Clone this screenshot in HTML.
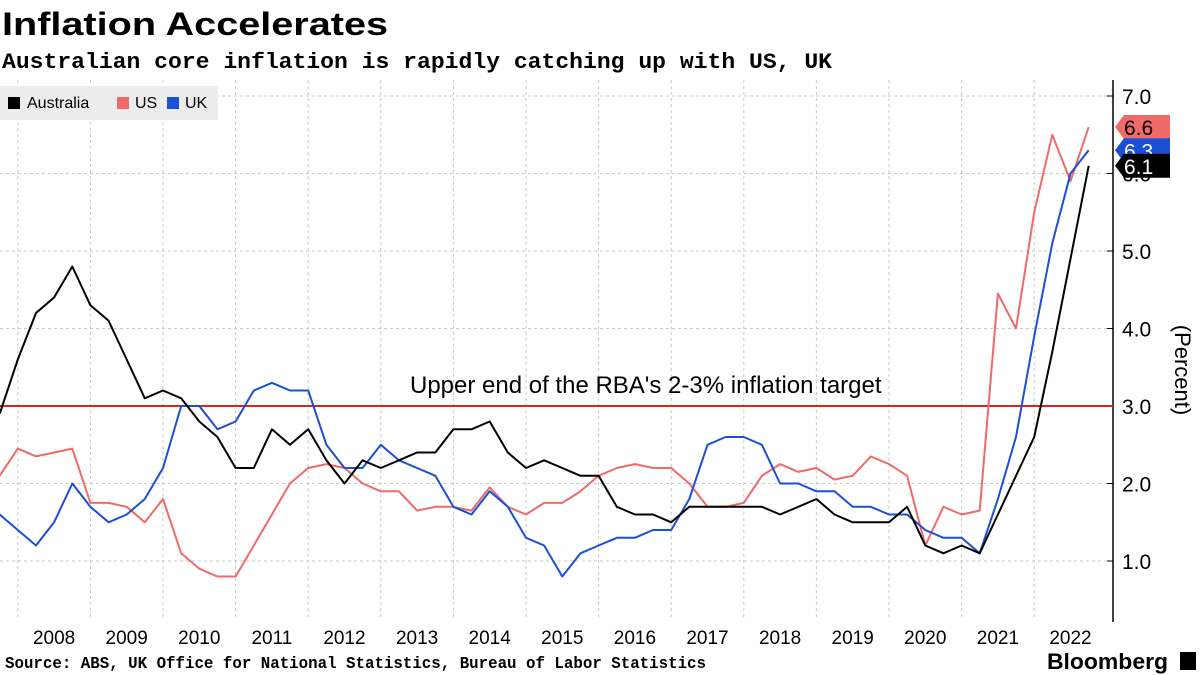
<!DOCTYPE html>
<html><head><meta charset="utf-8"><style>
body{margin:0;background:#fff;font-family:"Liberation Sans",sans-serif}
#wrap{position:relative;width:1200px;height:675px;overflow:hidden}
</style></head><body>
<div id="wrap">
<svg id="chart" width="1200" height="675" xmlns="http://www.w3.org/2000/svg">
<text x="2" y="35" font-size="32" font-weight="bold" font-family="Liberation Sans" textLength="386" lengthAdjust="spacingAndGlyphs">Inflation Accelerates</text>
<text x="2" y="68" font-size="22" font-weight="bold" font-family="Liberation Mono" textLength="830" lengthAdjust="spacingAndGlyphs">Australian core inflation is rapidly catching up with US, UK</text>
<g id="grid"></g>
<g id="series"></g>
<g id="legend">
<rect x="0" y="86" width="218" height="34" fill="#ececec"/>
<rect x="8" y="97" width="12" height="12" fill="#000"/><text x="27" y="108" font-size="16">Australia</text>
<rect x="117" y="97" width="12" height="12" fill="#f06a6a"/><text x="135" y="108" font-size="16">US</text>
<rect x="167" y="97" width="12" height="12" fill="#1a4fd6"/><text x="185" y="108" font-size="16">UK</text>
</g>
<text x="1175" y="370" font-size="22" transform="rotate(90 1175 370)" text-anchor="middle">(Percent)</text>
<text x="5" y="668" font-size="17" font-weight="bold" font-family="Liberation Mono" textLength="701" lengthAdjust="spacingAndGlyphs">Source: ABS, UK Office for National Statistics, Bureau of Labor Statistics</text>
<text x="1047" y="669" font-size="22" font-weight="bold" textLength="121" lengthAdjust="spacingAndGlyphs">Bloomberg</text>
<rect x="1180" y="652" width="16" height="18" fill="#000"/>
</svg>
</div>
<script>
const years=[2008,2009,2010,2011,2012,2013,2014,2015,2016,2017,2018,2019,2020,2021,2022];
const yTicks=[1,2,3,4,5,6,7];
const australia=[2.9,3.6,4.2,4.4,4.8,4.3,4.1,3.6,3.1,3.2,3.1,2.8,2.6,2.2,2.2,2.7,2.5,2.7,2.3,2.0,2.3,2.2,2.3,2.4,2.4,2.7,2.7,2.8,2.4,2.2,2.3,2.2,2.1,2.1,1.7,1.6,1.6,1.5,1.7,1.7,1.7,1.7,1.7,1.6,1.7,1.8,1.6,1.5,1.5,1.5,1.7,1.2,1.1,1.2,1.1,1.6,2.1,2.6,3.7,4.9,6.1];
const uk=[1.6,1.4,1.2,1.5,2.0,1.7,1.5,1.6,1.8,2.2,3.0,3.0,2.7,2.8,3.2,3.3,3.2,3.2,2.5,2.2,2.2,2.5,2.3,2.2,2.1,1.7,1.6,1.9,1.7,1.3,1.2,0.8,1.1,1.2,1.3,1.3,1.4,1.4,1.8,2.5,2.6,2.6,2.5,2.0,2.0,1.9,1.9,1.7,1.7,1.6,1.6,1.4,1.3,1.3,1.1,1.8,2.6,3.9,5.1,6.0,6.3];
const us=[2.1,2.45,2.35,2.4,2.45,1.75,1.75,1.7,1.5,1.8,1.1,0.9,0.8,0.8,1.2,1.6,2.0,2.2,2.25,2.2,2.0,1.9,1.9,1.65,1.7,1.7,1.65,1.95,1.7,1.6,1.75,1.75,1.9,2.1,2.2,2.25,2.2,2.2,2.0,1.7,1.7,1.75,2.1,2.25,2.15,2.2,2.05,2.1,2.35,2.25,2.1,1.2,1.7,1.6,1.65,4.45,4.0,5.5,6.5,5.9,6.6];
const startYear=2007.75, target=3.0;
const NS="http://www.w3.org/2000/svg";
const xs=t=>163+(t-2010)*72.6;
const ys=v=>406-(v-3)*77.5;
function mk(tag,attrs,parent){const e=document.createElementNS(NS,tag);for(const k in attrs)e.setAttribute(k,attrs[k]);parent.appendChild(e);return e;}
const grid=document.getElementById('grid'), ser=document.getElementById('series'), svg=document.getElementById('chart');
yTicks.forEach(v=>{
  if(v!==3){const l=mk('line',{x1:0,x2:1113,y1:ys(v),y2:ys(v),stroke:'#c8c8c8','stroke-dasharray':'3,3'},grid);
  
  }
  mk('line',{x1:1113,x2:1107,y1:ys(v),y2:ys(v),stroke:'#000'},grid);
  const t=mk('text',{x:1122,y:ys(v)+8,'font-size':21},grid);t.textContent=v.toFixed(1);
  
  
});
years.forEach(y=>{
  const l=mk('line',{x1:xs(y),x2:xs(y),y1:80,y2:620,stroke:'#c8c8c8','stroke-dasharray':'3,3'},grid);
  
  
  const t=mk('text',{x:xs(y+0.5),y:644,'font-size':19,'text-anchor':'middle'},grid);t.textContent=y;
  
  
});
const ax=mk('line',{x1:1113,x2:1113,y1:80,y2:622,stroke:'#000','stroke-width':1.5},grid);


const tl=mk('line',{x1:0,x2:1113,y1:ys(target),y2:ys(target),stroke:'#e0201c','stroke-width':2},ser);


const tt=mk('text',{x:410,y:393,'font-size':24},ser);tt.textContent="Upper end of the RBA's 2-3% inflation target";


function line(arr,color,name){
  const d=arr.map((v,i)=>(i?'L':'M')+xs(startYear+i*0.25).toFixed(1)+','+ys(v).toFixed(1)).join(' ');
  const p=mk('path',{d:d,fill:'none',stroke:color,'stroke-width':2,'stroke-linejoin':'round'},ser);
  
  
}
line(us,'#f06a6a','us-line');
line(uk,'#1a4fd6','uk-line');
line(australia,'#000','australia-line');
function tag(v,color,name){
  const y=ys(v);
  const g=mk('g',{},svg);
  
  
  mk('path',{d:`M1115,${y} L1124,${y-12} L1170,${y-12} L1170,${y+12} L1124,${y+12} Z`,fill:color},g);
  const t=mk('text',{x:1124,y:y+8,'font-size':21,fill:color==='#000'||color==='#1a4fd6'?'#fff':'#000'},g);t.textContent=v.toFixed(1);
}
tag(us[us.length-1],'#f06a6a','us-last-value-tag');
tag(uk[uk.length-1],'#1a4fd6','uk-last-value-tag');
tag(australia[australia.length-1],'#000','australia-last-value-tag');
</script>
</body></html>
